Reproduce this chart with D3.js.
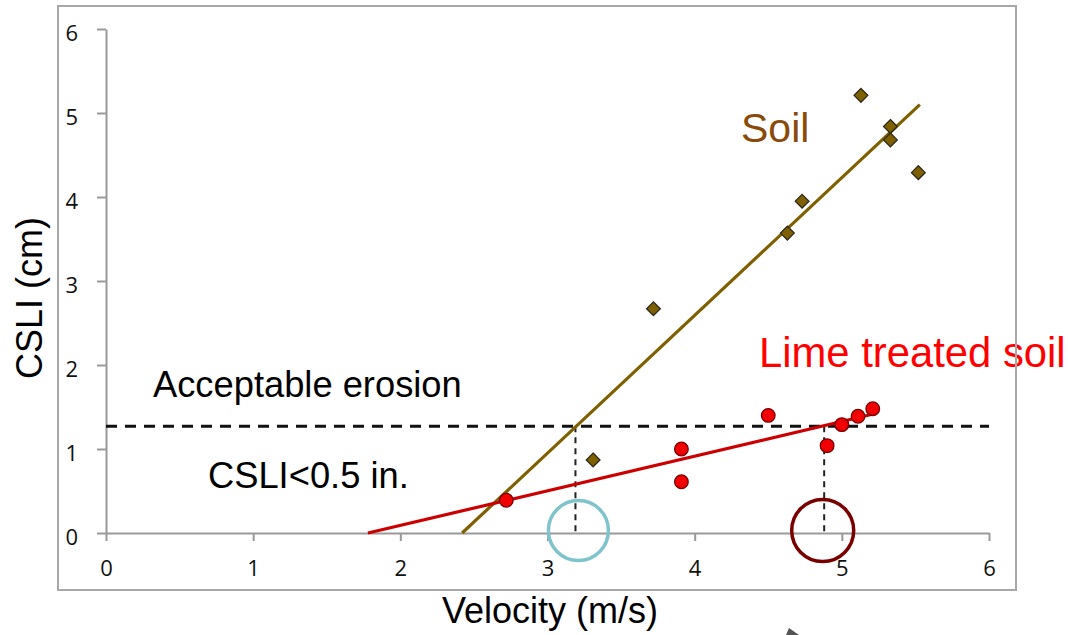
<!DOCTYPE html>
<html>
<head>
<meta charset="utf-8">
<script src="https://cdn.jsdelivr.net/npm/d3@7"></script>
<style>
  html, body { margin: 0; padding: 0; background: #fff; }
  svg { display: block; }
</style>
</head>
<body>
<svg id="chart" width="1068" height="635"></svg>
<script>
// Soil: measured velocity (m/s) and CSLI (cm)
const soilVelocity = [3.31, 3.72, 4.63, 4.73, 5.13, 5.33, 5.33, 5.52];
const soilCSLI     = [0.87, 2.67, 3.57, 3.95, 5.21, 4.84, 4.68, 4.29];

// Lime treated soil
const limeVelocity = [2.72, 3.91, 3.91, 4.50, 4.90, 5.00, 5.11, 5.21];
const limeCSLI     = [0.39, 1.00, 0.61, 1.40, 1.04, 1.29, 1.39, 1.48];

// Linear trend lines (start and end points)
const soilTrendX = [2.42, 5.53];
const soilTrendY = [0, 5.10];
const limeTrendX = [1.78, 5.20];
const limeTrendY = [0, 1.41];

// Acceptable erosion limit: 0.5 in. = 1.27 cm
const erosionLimit = 1.27;
// Critical velocities where each trend line reaches the limit
const criticalVelocity = [3.19, 4.88];

const xTicks = [0, 1, 2, 3, 4, 5, 6];
const yTicks = [0, 1, 2, 3, 4, 5, 6];

const svg = d3.select("#chart");

const x = d3.scaleLinear().domain([0, 6]).range([106, 989]);
const y = d3.scaleLinear().domain([0, 6]).range([533, 29]);

const axisColor = "#9a9a9a";
const tickFont = "'Open Sans', 'DejaVu Sans', sans-serif";
const textFont = "'Liberation Sans', Arial, Helvetica, sans-serif";

// Axes
const gx = svg.append("g")
  .attr("transform", `translate(0,${y(0)})`)
  .call(d3.axisBottom(x).tickValues(xTicks).tickFormat(d3.format("d"))
    .tickSize(8).tickSizeOuter(0).tickPadding(19));
const gy = svg.append("g")
  .attr("transform", `translate(${x(0)},0)`)
  .call(d3.axisLeft(y).tickValues(yTicks).tickFormat(d3.format("d"))
    .tickSize(9).tickSizeOuter(0).tickPadding(19));

[gx, gy].forEach(g => {
  g.select(".domain").attr("stroke", axisColor).attr("stroke-width", 2);
  g.selectAll(".tick line").attr("stroke", axisColor).attr("stroke-width", 2);
  g.selectAll(".tick text")
    .attr("fill", "#111")
    .style("font-family", tickFont)
    .style("font-size", "22px");
});
gy.selectAll(".tick text").attr("dy", "0.5em");

// Acceptable erosion threshold (dashed horizontal line)
svg.append("line")
  .attr("x1", x(0)).attr("x2", x(6))
  .attr("y1", y(erosionLimit)).attr("y2", y(erosionLimit))
  .attr("stroke", "#111").attr("stroke-width", 3)
  .attr("stroke-dasharray", "11,8");

// Drop lines from the threshold to the velocity axis
svg.selectAll("line.drop")
  .data(criticalVelocity)
  .join("line")
  .attr("class", "drop")
  .attr("x1", d => x(d)).attr("x2", d => x(d))
  .attr("y1", y(erosionLimit)).attr("y2", y(0))
  .attr("stroke", "#222").attr("stroke-width", 2)
  .attr("stroke-dasharray", "6,5");

// Trend lines
const line = d3.line().x(d => x(d[0])).y(d => y(d[1]));
svg.append("path")
  .datum(soilTrendX.map((v, i) => [v, soilTrendY[i]]))
  .attr("d", line)
  .attr("fill", "none").attr("stroke", "#7f6000").attr("stroke-width", 3.2);
svg.append("path")
  .datum(limeTrendX.map((v, i) => [v, limeTrendY[i]]))
  .attr("d", line)
  .attr("fill", "none").attr("stroke", "#cc0000").attr("stroke-width", 3.2);

// Soil points (diamonds)
const diamond = d3.symbol().type(d3.symbolDiamond2).size(120);
svg.selectAll("path.soil")
  .data(soilVelocity.map((v, i) => [v, soilCSLI[i]]))
  .join("path")
  .attr("class", "soil")
  .attr("d", diamond)
  .attr("transform", d => `translate(${x(d[0])},${y(d[1])})`)
  .attr("fill", "#7f6000").attr("stroke", "#2e2a1e").attr("stroke-width", 1.3);

// Lime treated soil points (circles)
svg.selectAll("circle.lime")
  .data(limeVelocity.map((v, i) => [v, limeCSLI[i]]))
  .join("circle")
  .attr("class", "lime")
  .attr("cx", d => x(d[0])).attr("cy", d => y(d[1]))
  .attr("r", 6.8)
  .attr("fill", "#f00000").attr("stroke", "#7a0000").attr("stroke-width", 1.3);

// Highlight circles at the critical velocities
const rings = [
  { v: 3.21, color: "#7fc4cc", r: 30 },
  { v: 4.87, color: "#7a0000", r: 31 }
];
svg.selectAll("circle.ring")
  .data(rings)
  .join("circle")
  .attr("class", "ring")
  .attr("cx", d => x(d.v)).attr("cy", y(0.03))
  .attr("r", d => d.r)
  .attr("fill", "none").attr("stroke", d => d.color).attr("stroke-width", 3.5);

// Annotations
const label = (txt, px, py, size, color) =>
  svg.append("text").attr("x", px).attr("y", py)
    .attr("fill", color)
    .style("font-family", textFont).style("font-size", size + "px")
    .text(txt);

label("Soil", 741, 142, 41, "#8a4a0a");
label("Lime treated soil", 759, 367, 41.8, "#ff0000");
label("Acceptable erosion", 153, 397, 36.3, "#000");
label("CSLI<0.5 in.", 208, 488, 36.3, "#000");

// Axis titles
svg.append("text")
  .attr("x", 550).attr("y", 623)
  .attr("text-anchor", "middle")
  .style("font-family", textFont).style("font-size", "36px")
  .text("Velocity (m/s)");
svg.append("text")
  .attr("transform", "translate(42,298) rotate(-90)")
  .attr("text-anchor", "middle")
  .style("font-family", textFont).style("font-size", "36px")
  .text("CSLI (cm)");

// Plot frame
svg.append("rect")
  .attr("x", 58).attr("y", 6)
  .attr("width", 958).attr("height", 584)
  .attr("fill", "none").attr("stroke", "#a8a8a8").attr("stroke-width", 2);

// Arrow tip entering from below
svg.append("path")
  .attr("d", "M786,635 L789,628 L799,635 Z")
  .attr("fill", "#555");
</script>
</body>
</html>
